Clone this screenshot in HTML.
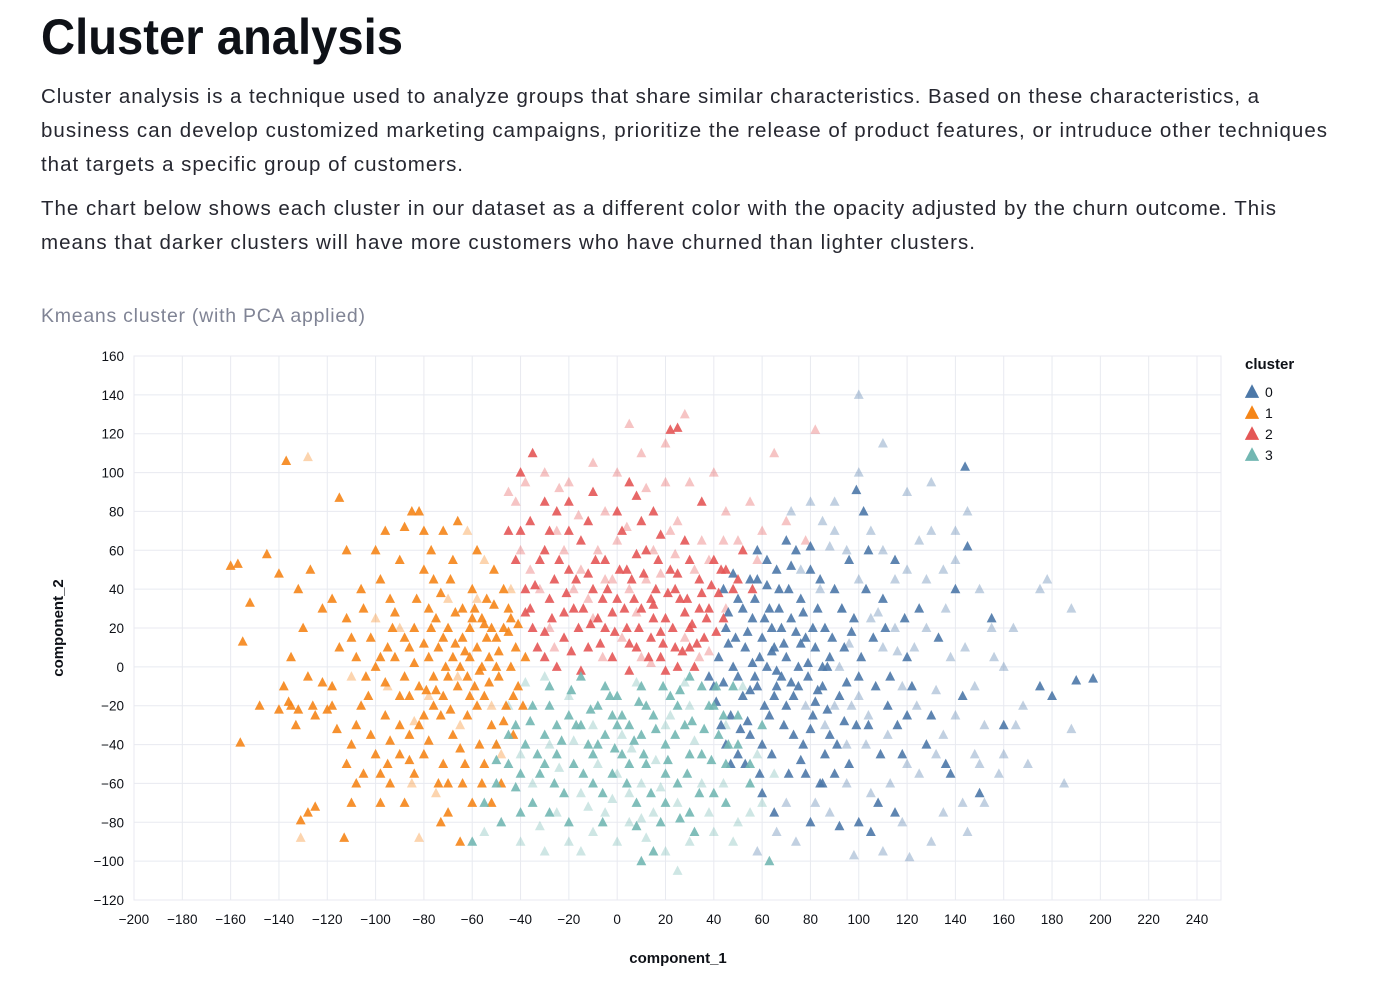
<!DOCTYPE html>
<html><head><meta charset="utf-8"><style>
body{margin:0;background:#fff;width:1374px;height:994px;overflow:hidden;font-family:"Liberation Sans",sans-serif;color:#0e1117;position:relative}
svg{position:absolute;left:0;top:0}
</style></head><body>
<svg id="text" width="1374" height="340" style="font-family:'Liberation Sans',sans-serif">
<text x="41" y="54" font-size="50" font-weight="bold" fill="#0e1117" textLength="362" lengthAdjust="spacingAndGlyphs">Cluster analysis</text>
<g font-size="20.5" fill="#262730">
<text x="41" y="103" textLength="1218" lengthAdjust="spacing">Cluster analysis is a technique used to analyze groups that share similar characteristics. Based on these characteristics, a</text>
<text x="41" y="137" textLength="1286" lengthAdjust="spacing">business can develop customized marketing campaigns, prioritize the release of product features, or intruduce other techniques</text>
<text x="41" y="171" textLength="422" lengthAdjust="spacing">that targets a specific group of customers.</text>
</g>
<g font-size="20.5" fill="#262730">
<text x="41" y="215" textLength="1235" lengthAdjust="spacing">The chart below shows each cluster in our dataset as a different color with the opacity adjusted by the churn outcome. This</text>
<text x="41" y="249" textLength="934" lengthAdjust="spacing">means that darker clusters will have more customers who have churned than lighter clusters.</text>
</g>
<text x="41" y="322" font-size="19.5" fill="#808495" textLength="324" lengthAdjust="spacing">Kmeans cluster (with PCA applied)</text>
</svg>
<svg id="chart" width="1374" height="994"></svg>
<script>
const xTicks=[-200,-180,-160,-140,-120,-100,-80,-60,-40,-20,0,20,40,60,80,100,120,140,160,180,200,220,240];
const yTicks=[-120,-100,-80,-60,-40,-20,0,20,40,60,80,100,120,140,160];
const clusters=["0","1","2","3"];
const colors=["#4c78a8","#f58518","#e45756","#72b7b2"];
const c0Dark=[[40,-10],[42,5],[45,20],[47,-25],[48,0],[50,35],[52,-15],[53,10],[55,-35],[56,25],[57,-5],[58,45],[60,15],[61,-20],[62,0],[63,30],[64,-45],[65,10],[66,-10],[67,40],[68,20],[69,-30],[70,5],[71,-55],[72,25],[73,-15],[74,60],[75,0],[76,35],[77,-40],[78,15],[79,-5],[80,50],[81,-25],[82,10],[83,30],[84,-60],[85,-10],[86,20],[87,0],[88,-35],[90,40],[92,-15],[94,10],[96,-50],[98,25],[100,-5],[102,80],[104,-30],[106,15],[108,-70],[110,35],[112,-20],[115,55],[118,-45],[120,5],[122,-10],[125,30],[128,-40],[130,-25],[133,15],[136,-50],[140,40],[143,-15],[145,62],[144,103],[150,-65],[155,25],[99,91],[92,-82],[100,-80],[105,-85],[80,-80],[175,-10],[180,-15],[190,-7],[197,-6],[120,-25],[60,-65],[65,-75],[45,-40],[43,-30],[50,-45],[55,45],[62,55],[70,65],[78,-55],[85,-60],[115,-75],[138,-55],[160,-30],[52,30],[58,-10],[66,-2],[72,-8],[76,12],[82,-18],[88,5],[94,-28],[54,-28],[46,12],[50,-5],[56,2],[64,20],
[38,-5],[41,-18],[44,-8],[46,28],[49,15],[51,-32],[54,18],[55,-12],[57,35],[59,5],[60,-40],[61,25],[63,-25],[64,8],[65,-15],[67,30],[68,-5],[69,12],[70,-20],[71,40],[73,-35],[74,18],[75,-10],[76,-48],[77,28],[79,2],[80,-32],[81,20],[83,-12],[84,45],[85,0],[87,-22],[89,15],[91,-40],[93,30],[95,-8],[97,18],[99,-30],[101,5],[103,40],[107,-10],[109,-45],[111,20],[113,-5],[116,-30],[119,25],[47,-50],[53,-50],[59,-55],[62,42],[66,50],[72,52],[58,60],[48,48],[44,40],[86,-45],[90,-55],[80,62],[96,55],[104,60]];
const c0Light=[[85,75],[90,85],[95,60],[100,100],[105,70],[110,115],[115,45],[120,90],[125,65],[130,95],[135,50],[140,70],[145,80],[150,40],[155,20],[160,0],[165,-30],[170,-50],[175,40],[178,45],[185,-60],[188,30],[188,-32],[152,-70],[145,-85],[130,-90],[121,-98],[110,-95],[98,-97],[95,-60],[100,140],[110,10],[118,-10],[125,-55],[135,-35],[148,-45],[158,-55],[103,-40],[93,30],[97,-20],[113,-60],[123,10],[128,45],[138,5],[143,-70],[88,62],[80,85],[72,80],[105,25],[115,20],[132,-12],[66,-85],[74,-90],[58,-95],[90,-20],[76,50],[84,40],
[92,0],[96,12],[100,-15],[104,-25],[108,28],[112,-35],[116,8],[120,-50],[124,-20],[128,20],[132,-45],[136,30],[140,-25],[144,10],[148,-10],[152,-30],[156,5],[160,-45],[164,20],[168,-20],[120,50],[110,60],[100,45],[90,70],[130,70],[140,55],[82,-70],[88,-75],[70,-70],[105,-65],[118,-80],[135,-75],[150,-50],[86,-30],[95,-40],[78,-20]];
const c1Dark=[[-160,52],[-157,53],[-152,33],[-148,-20],[-155,13],[-156,-39],[-145,58],[-140,48],[-137,106],[-135,-20],[-133,-30],[-131,-79],[-128,-75],[-125,-72],[-130,20],[-128,-5],[-135,5],[-138,-10],[-132,40],[-127,50],[-122,30],[-118,-20],[-115,10],[-112,60],[-115,87],[-113,-88],[-110,-40],[-108,-60],[-105,30],[-103,-15],[-100,0],[-98,45],[-96,70],[-95,-50],[-93,20],[-90,-30],[-88,-70],[-86,10],[-85,80],[-83,35],[-82,-10],[-80,-45],[-78,5],[-77,60],[-76,-20],[-75,25],[-74,-60],[-73,-80],[-72,15],[-70,-5],[-69,45],[-68,-35],[-66,75],[-65,0],[-64,30],[-63,-50],[-62,-25],[-61,20],[-60,40],[-59,-10],[-58,10],[-57,-40],[-56,25],[-55,-15],[-54,35],[-53,5],[-52,-30],[-51,50],[-50,15],[-49,-5],[-48,-60],[-47,20],[-46,-20],[-45,30],[-44,0],[-43,-35],[-42,10],[-41,-10],[-88,-5],[-92,5],[-95,10],[-86,-15],[-84,20],[-80,-25],[-78,30],[-76,-5],[-74,10],[-72,-15],[-70,20],[-68,5],[-66,-10],[-64,15],[-62,-5],[-60,25],[-58,-20],[-56,0],[-54,15],[-52,20],[-50,0],[-100,-45],[-105,-55],[-110,15],[-120,-22],[-125,-25],[-108,-30],[-98,-70],[-90,55],[-82,80],[-70,-75],[-65,-90],[-118,-10],[-112,-50],[-102,15],[-96,-25],[-90,-45],[-84,-55],[-80,50],[-76,45],[-72,-50],[-68,55],[-64,-60],[-58,60],[-55,-50],[-50,-40],[-47,40],[-44,25],[-94,35],[-104,-5],[-86,-35],[-79,-12],[-73,-25],[-67,28],[-61,5],
[-140,-22],[-136,-18],[-132,-22],[-126,-20],[-122,-8],[-116,-32],[-112,25],[-106,-20],[-102,-35],[-98,5],[-96,-8],[-94,-38],[-92,28],[-90,-15],[-88,15],[-86,-48],[-84,2],[-82,-30],[-80,12],[-78,-38],[-77,20],[-75,-12],[-73,38],[-71,0],[-69,-22],[-67,12],[-65,-42],[-63,8],[-61,-15],[-59,30],[-57,-2],[-55,22],[-53,-8],[-51,32],[-49,8],[-47,-28],[-45,18],[-43,-15],[-41,22],[-39,-20],[-38,5],[-106,40],[-100,60],[-94,-60],[-88,72],[-80,70],[-72,70],[-70,-60],[-60,-70],[-56,-60],[-52,-70],[-110,-70],[-118,35],[-108,5],[-98,-55]];
const c1Light=[[-128,108],[-131,-88],[-82,-88],[-95,-10],[-90,20],[-75,-65],[-62,70],[-85,-60],[-100,25],[-110,-5],[-70,35],[-55,55],[-48,-45],[-65,-30],[-78,-15],[-66,-5],[-58,35],[-52,-20],[-44,40],[-84,-28]];
const c2Dark=[[-35,110],[-40,70],[-38,40],[-35,20],[-32,55],[-30,5],[-28,35],[-25,80],[-22,15],[-20,50],[-18,30],[-15,65],[-12,10],[-10,40],[-8,25],[-5,55],[-2,5],[0,35],[2,70],[4,20],[6,45],[8,10],[10,30],[12,60],[14,15],[16,40],[18,5],[20,25],[22,50],[24,10],[26,35],[28,65],[30,20],[32,0],[34,45],[36,15],[38,30],[40,55],[44,25],[48,40],[52,60],[25,123],[22,122],[-40,100],[-45,70],[-30,85],[-10,90],[5,95],[15,80],[35,85],[-25,0],[-15,-2],[-5,20],[5,-2],[15,25],[25,0],[-36,30],[-26,45],[-16,20],[-6,35],[4,50],[14,35],[24,40],[34,30],[-30,60],[-20,70],[10,75],[45,50],[50,45],[30,10],[20,-2],[-33,10],[-12,48],[8,58],[18,18],[28,28],[-2,28],[-22,28],[42,38],[56,40],
[-38,28],[-34,42],[-30,18],[-27,25],[-24,55],[-21,38],[-19,8],[-17,45],[-14,30],[-11,22],[-9,55],[-7,12],[-4,40],[-1,18],[1,50],[3,30],[5,12],[7,35],[9,20],[11,48],[13,5],[15,32],[17,55],[19,12],[21,38],[23,20],[25,48],[27,8],[29,35],[31,22],[33,12],[35,38],[37,25],[39,42],[41,18],[43,50],[-42,55],[-28,70],[-12,75],[0,80],[18,68],[-36,75],[-20,85],[8,88],[30,55]];
const c2Light=[[-45,90],[-38,95],[-30,100],[-20,95],[-10,105],[0,100],[10,110],[20,115],[28,130],[5,125],[-5,80],[20,95],[40,100],[45,80],[55,85],[60,70],[70,75],[78,65],[65,110],[82,122],[-25,70],[-15,50],[-5,45],[5,40],[15,60],[25,75],[35,65],[45,30],[-28,20],[-18,40],[-8,60],[2,15],[12,45],[22,70],[32,50],[38,8],[-36,50],[-42,85],[0,65],[30,95],[50,65],[10,5],[-10,25],
[-32,40],[-22,60],[-12,35],[-2,45],[8,28],[18,48],[28,15],[38,55],[-26,10],[-6,5],[14,2],[24,58],[34,5],[-16,78],[4,72],[44,65],[58,55],[-40,60],[12,92],[-24,92]];
const c3Dark=[[-60,-90],[-55,-70],[-50,-60],[-45,-50],[-42,-30],[-40,-75],[-38,-40],[-35,-20],[-32,-55],[-30,-35],[-28,-10],[-25,-45],[-22,-65],[-20,-25],[-18,-50],[-15,-5],[-12,-40],[-10,-60],[-8,-20],[-5,-35],[-2,-55],[0,-15],[2,-45],[5,-30],[8,-70],[10,-10],[12,-50],[15,-25],[18,-80],[20,-40],[22,-15],[25,-60],[28,-30],[30,-5],[32,-85],[35,-45],[38,-20],[40,-65],[42,-35],[45,-50],[48,-10],[50,-40],[55,-60],[60,-30],[63,-100],[15,-95],[10,-100],[30,-75],[-48,-80],[-35,-70],[-20,-80],[-15,-30],[-5,-10],[5,-50],[25,-20],[35,-10],[-25,-30],[-10,-45],[0,-30],[10,-35],[20,-55],[30,-45],[40,-20],[-30,-50],[-40,-55],[-45,-35],[50,-25],[45,-70],[55,-50],[12,-20],[-2,-25],
[-36,-28],[-33,-45],[-28,-20],[-26,-60],[-23,-38],[-19,-12],[-17,-30],[-14,-55],[-11,-22],[-8,-40],[-6,-65],[-3,-15],[-1,-42],[2,-25],[4,-60],[7,-38],[9,-18],[11,-45],[14,-65],[16,-32],[19,-10],[21,-48],[24,-35],[26,-12],[29,-55],[31,-28],[34,-65],[36,-32],[39,-48],[41,-10],[44,-25],[46,-40],[26,-78],[20,-70],[-28,-75],[-42,-62],[-50,-48],[8,-82],[-6,-80]];
const c3Light=[[-55,-85],[-40,-90],[-30,-95],[-20,-90],[-10,-85],[0,-90],[5,-80],[20,-95],[30,-90],[40,-85],[50,-80],[55,-75],[60,-70],[65,-55],[-50,-40],[-45,-20],[-35,-60],[-25,-75],[-15,-65],[-5,-75],[5,-65],[15,-75],[25,-70],[35,-60],[45,-30],[52,-10],[-20,-15],[-10,-30],[0,-55],[10,-60],[20,-30],[30,-20],[-30,-5],[8,-8],[28,-8],[-38,-8],[58,-45],[48,-90],[-15,-95],[25,-105],
[-32,-82],[-12,-72],[-2,-68],[12,-88],[18,-62],[38,-75],[44,-60],[-24,-52],[-8,-50],[6,-42],[16,-48],[32,-38],[-18,-38],[2,-35],[22,-25],[-40,-45],[-28,-40],[10,-78]];
const series=[[c0Dark,c0Light],[c1Dark,c1Light],[c2Dark,c2Light],[c3Dark,c3Light]];

const svg=document.getElementById('chart');const NS='http://www.w3.org/2000/svg';
const L=134,R=1221,T=356,B=900;
const sx=v=>134+(v+200)*(1197-134)/440;
const sy=v=>900-(v+120)*(B-T)/280;
function mk(t,a){const e=document.createElementNS(NS,t);for(const k in a)e.setAttribute(k,a[k]);svg.appendChild(e);return e;}
xTicks.forEach(v=>{const l=mk('line',{x1:sx(v),x2:sx(v),y1:T,y2:B,stroke:'#e8eaf0'});


const t=mk('text',{x:sx(v),y:B+24,'text-anchor':'middle','font-size':13.5,fill:'#0e1117'});t.textContent=String(v).replace('-','\u2212');

});
yTicks.forEach(v=>{const l=mk('line',{x1:L,x2:R,y1:sy(v),y2:sy(v),stroke:'#e8eaf0'});


const t=mk('text',{x:L-10,y:sy(v)+5,'text-anchor':'end','font-size':13.5,fill:'#0e1117'});t.textContent=String(v).replace('-','\u2212');

});
const fr=mk('rect',{x:L,y:T,width:R-L,height:B-T,fill:'none',stroke:'#e8eaf0'});


function tri(x,y,c,o,s){return mk('path',{d:`M${x},${y-s*0.6}L${x+s*0.55},${y+s*0.45}L${x-s*0.55},${y+s*0.45}Z`,fill:c,'fill-opacity':o});}
series.forEach((pair,i)=>{pair[1].forEach(p=>{const e=tri(sx(p[0]),sy(p[1]),colors[i],0.35,9);

});});
series.forEach((pair,i)=>{pair[0].forEach(p=>{const e=tri(sx(p[0]),sy(p[1]),colors[i],0.9,9);

});});
let t=mk('text',{x:678,y:963,'text-anchor':'middle','font-size':15,'font-weight':'bold',fill:'#0e1117'});t.textContent='component_1';


t=mk('text',{x:0,y:0,'text-anchor':'middle','font-size':15,'font-weight':'bold',fill:'#0e1117',transform:'translate(63,628) rotate(-90)'});t.textContent='component_2';


t=mk('text',{x:1245,y:369,'font-size':15,'font-weight':'bold',fill:'#0e1117'});t.textContent='cluster';


clusters.forEach((c,i)=>{const y=392+i*21;const e=tri(1252,y,colors[i],1,13);


const l=mk('text',{x:1265,y:y+5,'font-size':14,fill:'#0e1117'});l.textContent=c;

});
</script>
</body></html>
